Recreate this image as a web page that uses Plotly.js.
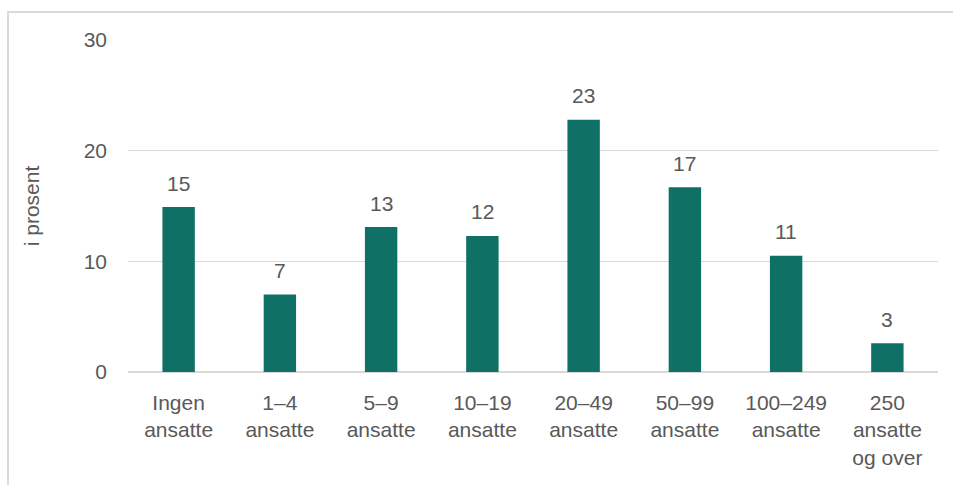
<!DOCTYPE html>
<html>
<head>
<meta charset="utf-8">
<script src="https://cdn.plot.ly/plotly-3.0.1.min.js"></script>
<style>
html,body{margin:0;padding:0;background:#fff;overflow:hidden;}
#frame{position:absolute;left:7px;top:11px;width:960px;height:490px;border-left:2px solid #d9d9d9;border-top:2px solid #d9d9d9;pointer-events:none;z-index:5;}
#chart{position:absolute;left:0;top:0;width:953px;height:485px;}
</style>
</head>
<body>
<div id="chart"></div>
<div id="frame"></div>
<script>
const categories = ["Ingen<br>ansatte","1–4<br>ansatte","5–9<br>ansatte","10–19<br>ansatte","20–49<br>ansatte","50–99<br>ansatte","100–249<br>ansatte","250<br>ansatte<br>og over"];
const values = [14.9, 7.0, 13.1, 12.3, 22.8, 16.7, 10.5, 2.6];
const valueLabels = ["15","7","13","12","23","17","11","3"];
const yTicks = [0, 10, 20, 30];

const textColor = "#595959";
const fontFamily = "Liberation Sans, Arial, sans-serif";
const fs = 21;

const trace = {
  type: "bar",
  x: categories,
  y: values,
  marker: {color: "#0f7066", line: {color: "#0f7066", width: 0}},
  hoverinfo: "none"
};

const annotations = categories.map((c, i) => ({
  x: c, y: values[i], xref: "x", yref: "y",
  text: valueLabels[i], showarrow: false,
  yshift: 24, font: {family: fontFamily, size: fs, color: textColor}
}));

const layout = {
  width: 953, height: 485,
  margin: {l: 128, r: 15, t: 40, b: 113},
  paper_bgcolor: "#fff", plot_bgcolor: "#fff",
  showlegend: false,
  bargap: 0.68,
  font: {family: fontFamily, size: fs, color: textColor},
  xaxis: {
    type: "category",
    showgrid: false, zeroline: false, showline: false,
    ticks: "", ticklabelstandoff: 16,
    tickfont: {family: fontFamily, size: fs, color: textColor}
  },
  yaxis: {
    range: [0, 30], tickvals: yTicks, ticktext: yTicks.map(String),
    showgrid: true, gridcolor: "#d9d9d9", gridwidth: 1.5,
    zeroline: true, zerolinecolor: "#d9d9d9", zerolinewidth: 1.5,
    showline: false, ticks: "", ticklabelstandoff: 20,
    tickfont: {family: fontFamily, size: fs, color: textColor},
    title: {text: "i prosent", standoff: 38, font: {family: fontFamily, size: fs, color: textColor}}
  },
  annotations: annotations
};

Plotly.newPlot("chart", [trace], layout, {displayModeBar: false, staticPlot: true});
</script>
</body>
</html>
